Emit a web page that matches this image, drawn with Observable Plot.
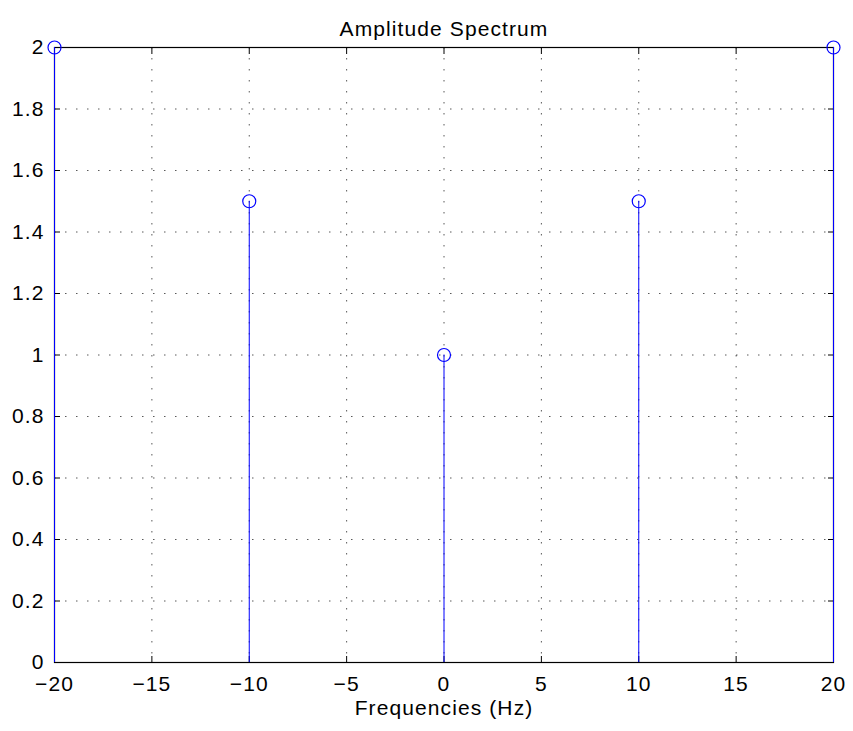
<!DOCTYPE html>
<html>
<head>
<meta charset="utf-8">
<script src="https://cdn.jsdelivr.net/npm/d3@7"></script>
<script src="https://cdn.jsdelivr.net/npm/@observablehq/plot@0.6"></script>
<style>
  html, body { margin: 0; padding: 0; background: white; }
</style>
</head>
<body>
<div id="chart"></div>
<script>
const freqs = [-20, -10, 0, 10, 20];
const amps = [2, 1.5, 1, 1.5, 2];
const xTicks = [-20, -15, -10, -5, 0, 5, 10, 15, 20];
const yTicks = [0, 0.2, 0.4, 0.6, 0.8, 1, 1.2, 1.4, 1.6, 1.8, 2];
const title = "Amplitude Spectrum";
const xLabel = "Frequencies (Hz)";

const data = freqs.map((f, i) => ({f, a: amps[i]}));
const fmt = d => (d < 0 ? "\u2212" + Math.abs(d) : String(d));

const chart = Plot.plot({
  width: 853,
  height: 731,
  marginTop: 47,
  marginBottom: 69,
  marginLeft: 54,
  marginRight: 20,
  style: {fontFamily: "'Liberation Sans', Arial, Helvetica, sans-serif", fontSize: "21px", letterSpacing: "1.1px", background: "white", color: "black", overflow: "visible"},
  x: {domain: [-20, 20]},
  y: {domain: [0, 2]},
  marks: [
    Plot.gridX(xTicks, {stroke: "#222", strokeOpacity: 0.75, strokeDasharray: "1.5,9.5"}),
    Plot.gridY(yTicks, {stroke: "#222", strokeOpacity: 0.75, strokeDasharray: "1.5,9.5"}),
    Plot.axisX(xTicks, {anchor: "bottom", tickSize: 0, tickPadding: 14, tickFormat: fmt, label: null}),
    Plot.axisY(yTicks, {anchor: "left", tickSize: 0, tickPadding: 10, tickFormat: d => String(d), label: null}),
    Plot.axisX(xTicks, {anchor: "bottom", tickSize: -6, tickFormat: () => "", label: null}),
    Plot.axisX(xTicks, {anchor: "top", tickSize: -6, tickFormat: () => "", label: null}),
    Plot.axisY(yTicks, {anchor: "left", tickSize: -6, tickFormat: () => "", label: null}),
    Plot.axisY(yTicks, {anchor: "right", tickSize: -6, tickFormat: () => "", label: null}),
    Plot.frame({stroke: "black", strokeWidth: 1.2}),
    Plot.ruleX(data, {x: "f", y: "a", stroke: "#0000ff", strokeWidth: 1}),
    Plot.dot(data, {x: "f", y: "a", r: 6.5, stroke: "#0000ff", fill: "none", strokeWidth: 1.2}),
    Plot.text([title], {frameAnchor: "top", dy: -26, fontSize: 21, fill: "black"}),
    Plot.text([xLabel], {frameAnchor: "bottom", dy: 52, fontSize: 21, fill: "black"})
  ]
});
document.getElementById("chart").appendChild(chart);
</script>
</body>
</html>
